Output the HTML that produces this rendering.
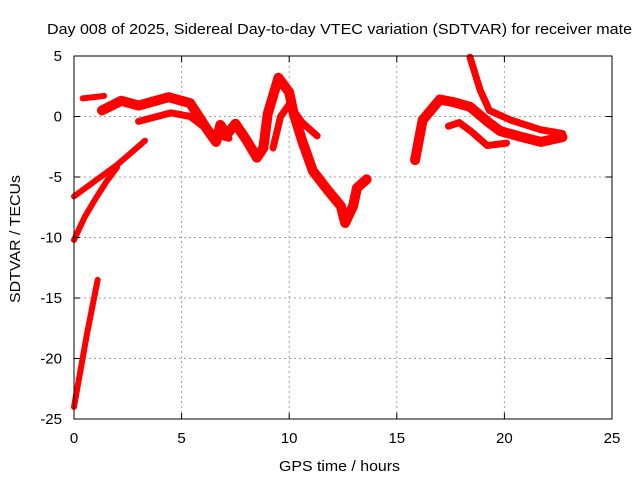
<!DOCTYPE html>
<html><head><meta charset="utf-8"><style>
body{margin:0;background:#fff}
svg{display:block;font-family:"Liberation Sans",sans-serif}
</style></head><body>
<svg id="chart" width="640" height="480">
<text x="47" y="34" font-size="15" textLength="585" lengthAdjust="spacingAndGlyphs">Day 008 of 2025, Sidereal Day-to-day VTEC variation (SDTVAR) for receiver mate</text>
<g id="grid"></g>
<g id="series"></g>
<rect x="74" y="56" width="538" height="363" fill="none" stroke="#000" stroke-width="1"/>
<g id="ticks"></g>
<text x="279" y="471" font-size="15" textLength="121" lengthAdjust="spacingAndGlyphs">GPS time / hours</text>
<text transform="translate(20,303) rotate(-90)" font-size="15" textLength="128" lengthAdjust="spacingAndGlyphs">SDTVAR / TECUs</text>
</svg>
<script>
const xTicks=[0,5,10,15,20,25];
const yTicks=[5,0,-5,-10,-15,-20,-25];
const s1=[[0,-24],[0.3,-21],[0.6,-18],[1.1,-13.5]];
const s2=[[0,-10.2],[0.5,-8.3],[1,-6.8],[1.5,-5.4],[2,-4.2]];
const s3=[[0,-6.6],[1,-5.3],[2,-4],[3.3,-2]];
const s4=[[0.4,1.5],[1.4,1.7]];
const s5=[[1.3,0.5],[2.2,1.3],[3,0.9],[4.4,1.6],[5.4,1.1],[6.2,-1.1],[6.6,-2.1],[6.8,-0.7],[7.1,-1.5],[7.5,-0.6],[8,-1.9],[8.5,-3.4],[8.8,-2.6],[9,0.2],[9.5,3.2],[10,2],[10.2,0.3],[10.6,-2],[11.1,-4.5],[11.75,-6],[12.4,-7.4],[12.6,-8.8],[12.97,-7.4],[13.15,-5.9],[13.6,-5.2]];
const s6=[[3,-0.4],[4.5,0.3],[5.4,0],[6.5,-1.5],[7.2,-1.8]];
const s7=[[9.25,-2.6],[9.6,0],[10,1],[10.6,-0.5],[11.3,-1.6]];
const s8=[[18.4,4.9],[18.87,2.2],[19.3,0.5],[20.3,-0.3],[21.7,-1.1],[22.7,-1.4]];
const s9=[[15.85,-3.6],[16.2,-0.3],[17,1.4],[17.6,1.2],[18.4,0.8],[19.2,-0.4],[19.8,-1.2],[20.6,-1.6],[21.7,-2.1],[22.7,-1.7]];
const s10=[[17.4,-0.8],[17.9,-0.5],[18.5,-1.3],[19.2,-2.4],[20.1,-2.2]];
const allSeries=[s1,s2,s3,s4,s5,s6,s7,s8,s9,s10];
const widths=[6,6,6,6,10,7,7,7,10,7];
const X=h=>74+h*538/25;
const Y=v=>56+(5-v)*363/30;
const NS="http://www.w3.org/2000/svg";
const grid=document.getElementById('grid'),ticks=document.getElementById('ticks'),ser=document.getElementById('series');
function mk(tag,attrs,parent){const e=document.createElementNS(NS,tag);for(const k in attrs)e.setAttribute(k,attrs[k]);parent.appendChild(e);return e;}
xTicks.forEach(t=>{
  const x=X(t);
  if(t>0&&t<25){const g=mk('line',{x1:x,x2:x,y1:56,y2:419,stroke:'#a0a0a0','stroke-dasharray':'2,3'},grid);
  
  }
  mk('line',{x1:x,x2:x,y1:419,y2:413,stroke:'#000'},ticks);
  mk('line',{x1:x,x2:x,y1:56,y2:62,stroke:'#000'},ticks);
  const l=mk('text',{x:x,y:443,'font-size':15,'text-anchor':'middle'},ticks);l.textContent=t;
  
  
});
yTicks.forEach(t=>{
  const y=Y(t);
  if(t<5&&t>-25){const g=mk('line',{x1:74,x2:612,y1:y,y2:y,stroke:'#a0a0a0','stroke-dasharray':'2,3'},grid);
  
  }
  mk('line',{x1:74,x2:80,y1:y,y2:y,stroke:'#000'},ticks);
  mk('line',{x1:612,x2:606,y1:y,y2:y,stroke:'#000'},ticks);
  const l=mk('text',{x:62,y:y+5,'font-size':15,'text-anchor':'end'},ticks);l.textContent=t;
  
  
});
allSeries.forEach((s,i)=>{
  const p=mk('polyline',{points:s.map(d=>X(d[0])+','+Y(d[1])).join(' '),fill:'none',stroke:'#ff0000','stroke-width':widths[i],'stroke-linejoin':'round','stroke-linecap':'round'},ser);
  
  
});
</script>
</body></html>
